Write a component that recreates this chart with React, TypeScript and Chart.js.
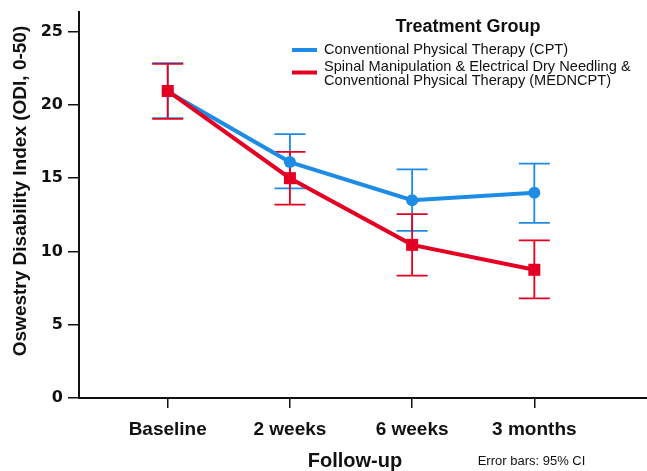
import React, { useEffect, useRef } from "react";
import { Chart, registerables } from "chart.js";

Chart.register(...registerables);

const categories = ["Baseline", "2 weeks", "6 weeks", "3 months"];
const cptMean = [20.9, 16.1, 13.5, 14.0];
const cptLower = [19.1, 14.3, 11.4, 11.95];
const cptUpper = [22.85, 18.0, 15.6, 16.0];
const medMean = [20.95, 15.0, 10.45, 8.75];
const medLower = [19.05, 13.2, 8.35, 6.8];
const medUpper = [22.8, 16.8, 12.55, 10.75];
const yTicks = [0, 5, 10, 15, 20, 25];

const legendTitle = "Treatment Group";
const cptLabel = ["Conventional Physical Therapy (CPT)"];
const medLabel = [
  "Spinal Manipulation & Electrical Dry Needling &",
  "Conventional Physical Therapy (MEDNCPT)",
];
const xTitle = "Follow-up";
const yTitle = "Oswestry Disability Index (ODI, 0-50)";
const note = "Error bars: 95% CI";

const BLUE = "rgb(30,140,228)";
const RED = "rgb(228,0,34)";

const errorBarPlugin = {
  id: "errorBars",
  beforeDatasetsDraw(chart: any) {
    const { ctx, scales } = chart;
    const xs = scales.x;
    const ys = scales.y;
    const sets = [
      { lo: cptLower, hi: cptUpper, color: BLUE },
      { lo: medLower, hi: medUpper, color: RED },
    ];
    ctx.save();
    ctx.lineWidth = 1.8;
    sets.forEach((s) => {
      ctx.strokeStyle = s.color;
      s.lo.forEach((lo, i) => {
        const x = xs.getPixelForValue(i);
        const y1 = ys.getPixelForValue(lo);
        const y2 = ys.getPixelForValue(s.hi[i]);
        ctx.beginPath();
        ctx.moveTo(x, y1);
        ctx.lineTo(x, y2);
        ctx.moveTo(x - 15.5, y1);
        ctx.lineTo(x + 15.5, y1);
        ctx.moveTo(x - 15.5, y2);
        ctx.lineTo(x + 15.5, y2);
        ctx.stroke();
      });
    });
    ctx.restore();
  },
};

const textPlugin = {
  id: "texts",
  afterDraw(chart: any) {
    const { ctx } = chart;
    ctx.save();
    ctx.fillStyle = "#111";
    ctx.textBaseline = "middle";
    // legend title
    ctx.font = "bold 18px 'Liberation Sans', Arial, sans-serif";
    ctx.textAlign = "center";
    ctx.fillText(legendTitle, 468, 27);
    // legend entries
    ctx.font = "14.6px 'Liberation Sans', Arial, sans-serif";
    ctx.textAlign = "left";
    ctx.lineWidth = 4;
    ctx.strokeStyle = BLUE;
    ctx.beginPath();
    ctx.moveTo(292, 50);
    ctx.lineTo(317, 50);
    ctx.stroke();
    ctx.strokeStyle = RED;
    ctx.beginPath();
    ctx.moveTo(292, 72.5);
    ctx.lineTo(317, 72.5);
    ctx.stroke();
    cptLabel.forEach((t, i) => ctx.fillText(t, 324, 50 + i * 14));
    medLabel.forEach((t, i) => ctx.fillText(t, 324, 66.5 + i * 14.5));
    // axis titles
    ctx.font = "bold 20px 'Liberation Sans', Arial, sans-serif";
    ctx.textAlign = "center";
    ctx.fillText(xTitle, 355, 461);
    ctx.font = "13px 'Liberation Sans', Arial, sans-serif";
    ctx.fillText(note, 531.5, 461);
    ctx.save();
    ctx.translate(21, 191);
    ctx.rotate(-Math.PI / 2);
    ctx.font = "bold 19px 'Liberation Sans', Arial, sans-serif";
    ctx.fillText(yTitle, 0, 0);
    ctx.restore();
    ctx.restore();
  },
};

export default function App() {
  const ref = useRef<HTMLCanvasElement>(null);
  useEffect(() => {
    document.body.style.margin = "0";
    const chart = new Chart(ref.current!, {
      type: "line",
      data: {
        datasets: [
          {
            label: cptLabel.join(" "),
            data: cptMean.map((v, i) => ({ x: i, y: v })),
            borderColor: BLUE,
            backgroundColor: BLUE,
            borderWidth: 4,
            pointStyle: "circle",
            pointRadius: 6,
            pointBorderWidth: 0,
            order: 2,
          },
          {
            label: medLabel.join(" "),
            data: medMean.map((v, i) => ({ x: i, y: v })),
            borderColor: RED,
            backgroundColor: RED,
            borderWidth: 4,
            pointStyle: "rect",
            pointRadius: 8.5,
            pointBorderWidth: 0,
            order: 1,
          },
        ],
      },
      options: {
        animation: false,
        responsive: false,
        maintainAspectRatio: false,
        layout: { autoPadding: false, padding: { top: 12, left: 0, right: 0, bottom: 0 } },
        plugins: {
          legend: { display: false },
          tooltip: { enabled: false },
        },
        scales: {
          x: {
            type: "linear",
            min: -0.726,
            max: 3.922,
            afterBuildTicks: (s: any) => {
              s.ticks = categories.map((_, i) => ({ value: i }));
            },
            afterFit: (s: any) => {
              s.height = 73;
              s.paddingLeft = 0;
              s.paddingRight = 0;
            },
            ticks: {
              callback: (v: any) => categories[v as number] ?? "",
              font: { family: "'Liberation Sans', Arial, sans-serif", size: 19, weight: "bold" },
              color: "#111",
              padding: 10,
              maxRotation: 0,
              autoSkip: false,
            },
            grid: { drawOnChartArea: false, drawTicks: true, tickLength: 10, color: "#111", lineWidth: 1.5 },
            border: { color: "#111", width: 2 },
          },
          y: {
            type: "linear",
            min: 0,
            max: 26.34,
            afterBuildTicks: (s: any) => {
              s.ticks = yTicks.map((v) => ({ value: v }));
            },
            afterFit: (s: any) => {
              s.width = 79;
              s.paddingTop = 0;
              s.paddingBottom = 0;
            },
            ticks: {
              font: { family: "'DejaVu Sans', sans-serif", size: 16, weight: "bold" },
              color: "#111",
              padding: 5,
            },
            grid: { drawOnChartArea: false, drawTicks: true, tickLength: 11, color: "#111", lineWidth: 1.5 },
            border: { color: "#111", width: 2 },
          },
        },
      },
      plugins: [errorBarPlugin, textPlugin],
    });
    return () => chart.destroy();
  }, []);
  return (
    <div style={{ width: 647, height: 471, background: "#fff" }}>
      <canvas ref={ref} width={647} height={471} style={{ display: "block" }} />
    </div>
  );
}
